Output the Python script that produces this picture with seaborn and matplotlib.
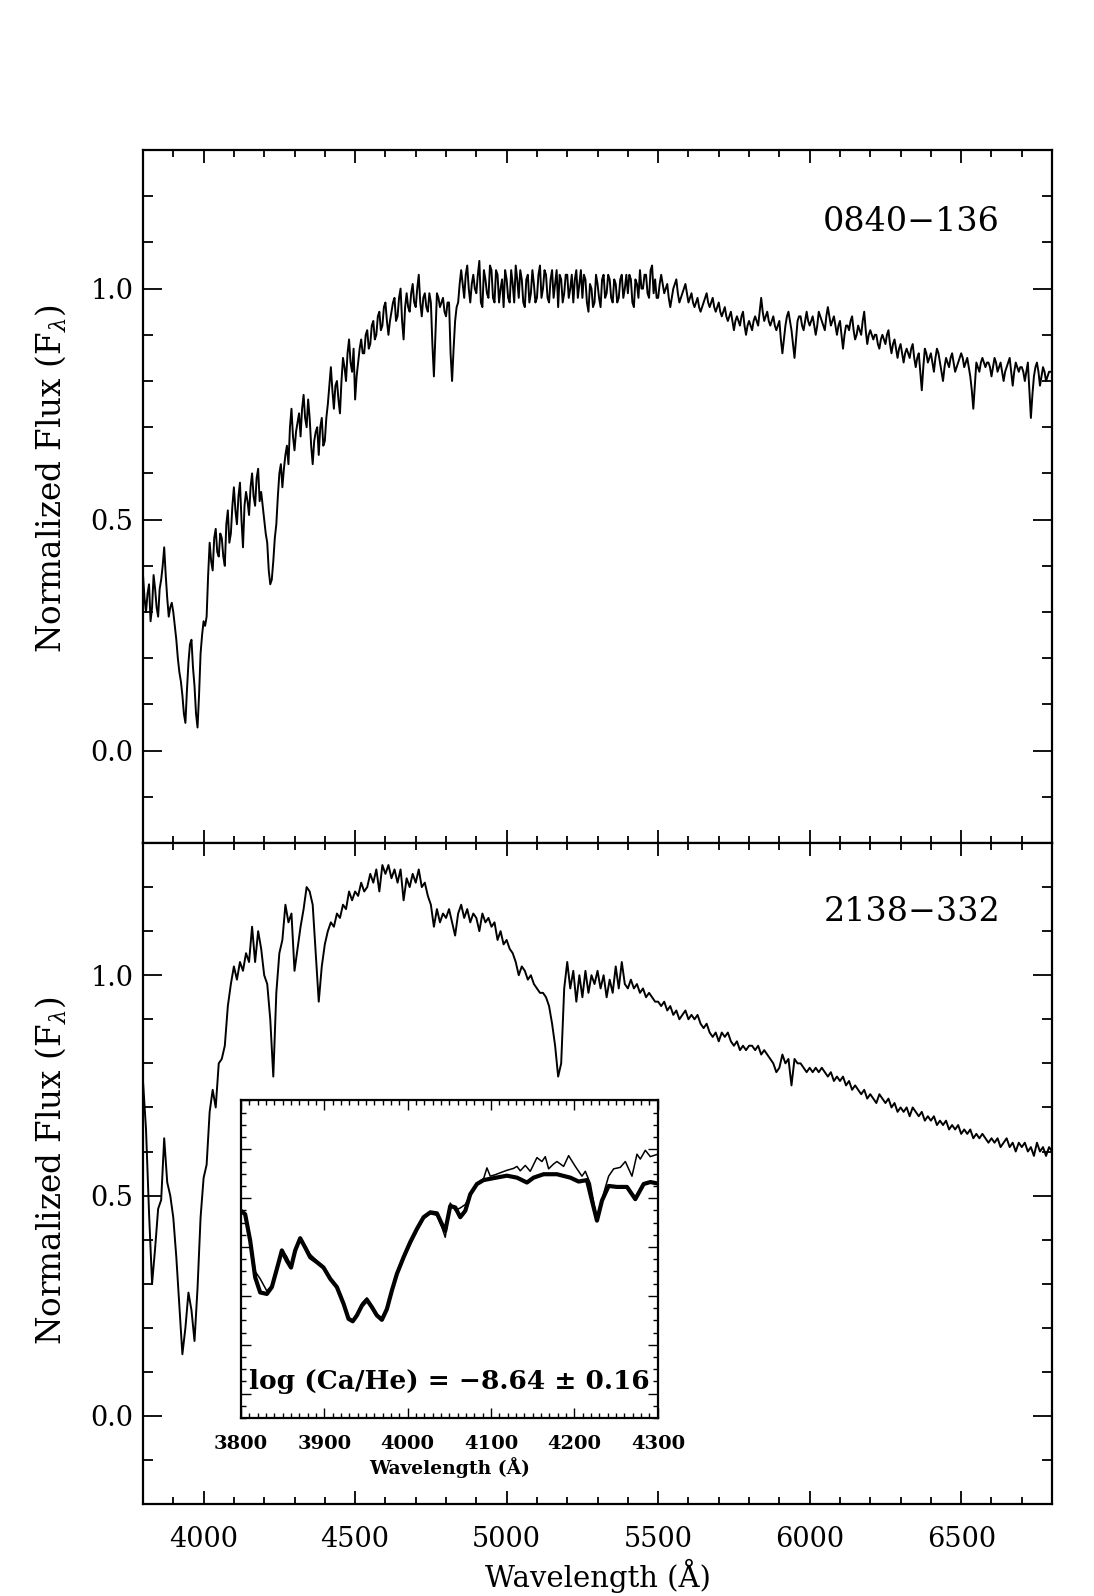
import numpy as np
import matplotlib
matplotlib.use('Agg')
import matplotlib.pyplot as plt
from matplotlib.ticker import MultipleLocator, FormatStrFormatter
import seaborn as sns

# wavelength grids of the two spectra (Angstrom)
wave = np.arange(3800, 6801, 10)
wave_mid = np.arange(3805, 6800, 10)

# 0840-136, every 10 A
flux_0840 = [
    0.38, 0.30, 0.36, 0.31, 0.35, 0.29, 0.37, 0.44, 0.33, 0.31,
    0.30, 0.24, 0.17, 0.12, 0.06, 0.19, 0.24, 0.14, 0.05, 0.21,
    0.28, 0.29, 0.45, 0.39, 0.48, 0.42, 0.46, 0.40, 0.52, 0.47,
    0.57, 0.49, 0.58, 0.44, 0.56, 0.51, 0.60, 0.53, 0.61, 0.56,
    0.50, 0.45, 0.36, 0.41, 0.49, 0.60, 0.57, 0.64, 0.62, 0.74,
    0.65, 0.71, 0.68, 0.77, 0.70, 0.72, 0.62, 0.69, 0.64, 0.72,
    0.67, 0.75, 0.83, 0.74, 0.80, 0.73, 0.85, 0.80, 0.89, 0.82,
    0.76, 0.84, 0.89, 0.86, 0.91, 0.88, 0.93, 0.90, 0.95, 0.92,
    0.97, 0.90, 0.95, 0.98, 0.94, 1.00, 0.89, 0.99, 0.95, 1.01,
    0.96, 1.03, 0.94, 0.99, 0.95, 0.97, 0.81, 0.99, 0.96, 0.98,
    0.94, 0.97, 0.80, 0.93, 0.97, 1.04, 0.98, 1.05, 0.97, 1.03,
    0.99, 1.06, 0.96, 1.02, 0.98, 1.04, 0.97, 1.03, 1.00, 0.96,
    1.02, 0.97, 1.01, 1.05, 0.98, 1.02, 0.96, 1.03, 0.99, 1.01,
    0.98, 1.05, 1.00, 1.03, 0.97, 1.04, 1.01, 0.96, 1.02, 0.99,
    1.03, 1.00, 0.97, 1.04, 1.01, 0.98, 1.02, 0.95, 1.00, 0.97,
    1.01, 0.96, 1.03, 0.99, 1.02, 0.97, 1.01, 0.98, 1.03, 1.00,
    0.99, 1.02, 0.96, 1.01, 1.04, 1.00, 1.03, 0.98, 1.05, 1.02,
    0.98, 1.03, 0.99, 1.01, 0.96, 1.00, 1.02, 0.97, 0.99, 1.01,
    0.97, 0.99, 0.96, 0.98, 0.95, 0.97, 0.99, 0.96, 0.98, 0.95,
    0.97, 0.94, 0.96, 0.93, 0.95, 0.91, 0.94, 0.92, 0.95, 0.90,
    0.93, 0.91, 0.94, 0.92, 0.98, 0.93, 0.95, 0.92, 0.94, 0.91,
    0.93, 0.86, 0.92, 0.95, 0.91, 0.85, 0.93, 0.94, 0.91, 0.95,
    0.92, 0.94, 0.90, 0.95, 0.93, 0.91, 0.96, 0.92, 0.94, 0.90,
    0.93, 0.87, 0.92, 0.91, 0.94, 0.89, 0.92, 0.90, 0.95, 0.88,
    0.91, 0.89, 0.90, 0.87, 0.90, 0.88, 0.91, 0.86, 0.89, 0.85,
    0.88, 0.84, 0.87, 0.85, 0.88, 0.83, 0.86, 0.78, 0.87, 0.84,
    0.86, 0.82, 0.87, 0.84, 0.80, 0.85, 0.83, 0.86, 0.82, 0.84,
    0.86, 0.83, 0.85, 0.81, 0.74, 0.84, 0.82, 0.85, 0.83, 0.84,
    0.81, 0.85, 0.82, 0.84, 0.80, 0.83, 0.85, 0.79, 0.84, 0.82,
    0.83, 0.80, 0.84, 0.72, 0.81, 0.84, 0.79, 0.83, 0.80, 0.82, 0.82,
]

# 0840-136, extra samples half way between the ones above (3805, 3815, ...)
flux_0840_mid = [
    0.33, 0.34, 0.28, 0.38, 0.31, 0.35, 0.40, 0.38, 0.29, 0.32,
    0.27, 0.20, 0.15, 0.08, 0.13, 0.23, 0.18, 0.08, 0.12, 0.25,
    0.27, 0.38, 0.41, 0.46, 0.43, 0.47, 0.42, 0.49, 0.45, 0.53,
    0.52, 0.55, 0.50, 0.53, 0.54, 0.57, 0.55, 0.59, 0.54, 0.53,
    0.47, 0.39, 0.37, 0.46, 0.55, 0.62, 0.61, 0.66, 0.70, 0.68,
    0.69, 0.73, 0.74, 0.72, 0.76, 0.66, 0.67, 0.70, 0.70, 0.66,
    0.72, 0.79, 0.78, 0.79, 0.76, 0.80, 0.83, 0.86, 0.84, 0.87,
    0.81, 0.87, 0.86, 0.90, 0.87, 0.92, 0.89, 0.94, 0.91, 0.96,
    0.93, 0.93, 0.97, 0.93, 0.98, 0.93, 0.96, 0.96, 0.99, 0.97,
    1.00, 0.97, 0.98, 0.96, 0.99, 0.88, 0.90, 0.98, 0.97, 0.95,
    0.97, 0.86, 0.87, 0.96, 1.01, 1.01, 1.03, 1.00, 1.01, 1.00,
    1.03, 0.97, 1.04, 0.99, 1.05, 0.98, 1.04, 0.97, 1.02, 1.04,
    0.98, 1.04, 0.97, 1.02, 1.04, 0.97, 1.02, 0.97, 1.04, 0.97,
    1.03, 0.98, 1.04, 0.98, 1.02, 0.98, 1.04, 1.03, 0.97, 1.03,
    0.98, 1.03, 1.02, 0.98, 1.04, 1.03, 0.97, 1.01, 0.96, 1.03,
    0.98, 1.02, 0.98, 1.03, 0.98, 1.02, 0.97, 1.02, 0.98, 1.03,
    1.03, 0.97, 1.02, 0.98, 1.00, 1.03, 0.99, 1.04, 0.99, 0.98,
    1.01, 1.01, 1.00, 0.98, 0.98, 1.01, 0.99, 0.98, 1.00, 0.99,
    0.98, 0.97, 0.97, 0.96, 0.96, 0.98, 0.97, 0.97, 0.96, 0.96,
    0.95, 0.95, 0.94, 0.94, 0.93, 0.93, 0.93, 0.94, 0.92, 0.92,
    0.92, 0.93, 0.93, 0.95, 0.95, 0.94, 0.93, 0.93, 0.92, 0.92,
    0.89, 0.89, 0.94, 0.93, 0.88, 0.89, 0.94, 0.92, 0.93, 0.93,
    0.93, 0.92, 0.92, 0.94, 0.92, 0.94, 0.94, 0.93, 0.92, 0.92,
    0.90, 0.90, 0.92, 0.93, 0.91, 0.90, 0.91, 0.93, 0.91, 0.90,
    0.90, 0.90, 0.88, 0.89, 0.89, 0.90, 0.88, 0.88, 0.87, 0.87,
    0.86, 0.86, 0.86, 0.87, 0.85, 0.85, 0.82, 0.83, 0.86, 0.85,
    0.84, 0.85, 0.86, 0.82, 0.83, 0.84, 0.85, 0.84, 0.83, 0.85,
    0.85, 0.84, 0.83, 0.78, 0.79, 0.83, 0.84, 0.84, 0.84, 0.83,
    0.83, 0.84, 0.83, 0.82, 0.82, 0.84, 0.82, 0.82, 0.83, 0.83,
    0.82, 0.82, 0.78, 0.77, 0.83, 0.82, 0.81, 0.82, 0.81, 0.82,
]

# 2138-332, bottom panel
flux_2138 = [
    0.76, 0.65, 0.46, 0.30, 0.38, 0.47, 0.49, 0.63, 0.53, 0.50,
    0.45, 0.36, 0.25, 0.14, 0.20, 0.28, 0.24, 0.17, 0.29, 0.45,
    0.54, 0.57, 0.69, 0.74, 0.70, 0.80, 0.81, 0.84, 0.93, 0.98,
    1.02, 0.99, 1.03, 1.01, 1.05, 1.03, 1.11, 1.03, 1.10, 1.06,
    1.00, 0.98, 0.90, 0.77, 0.96, 1.05, 1.08, 1.16, 1.12, 1.14,
    1.01, 1.06, 1.11, 1.15, 1.20, 1.19, 1.16, 1.05, 0.94, 1.02,
    1.07, 1.10, 1.12, 1.11, 1.14, 1.13, 1.16, 1.15, 1.19, 1.17,
    1.19, 1.18, 1.21, 1.19, 1.20, 1.23, 1.21, 1.24, 1.19, 1.25,
    1.23, 1.25, 1.22, 1.24, 1.21, 1.24, 1.17, 1.22, 1.20, 1.23,
    1.21, 1.24, 1.20, 1.21, 1.18, 1.16, 1.11, 1.15, 1.12, 1.14,
    1.13, 1.15, 1.12, 1.09, 1.14, 1.16, 1.13, 1.15, 1.12, 1.14,
    1.13, 1.10, 1.14, 1.12, 1.13, 1.11, 1.12, 1.08, 1.10, 1.07,
    1.08, 1.06, 1.05, 1.03, 1.00, 1.02, 1.01, 0.99, 1.00, 0.98,
    0.97, 0.96, 0.96, 0.95, 0.93, 0.89, 0.84, 0.77, 0.80, 0.97,
    1.03, 0.97, 1.01, 0.94, 1.00, 0.95, 1.01, 0.96, 1.00, 0.98,
    1.01, 0.97, 1.00, 0.95, 0.99, 0.96, 1.02, 0.97, 1.03, 0.98,
    0.97, 0.99, 0.97, 0.98, 0.96, 0.97, 0.95, 0.96, 0.95, 0.94,
    0.94, 0.93, 0.94, 0.92, 0.93, 0.91, 0.92, 0.90, 0.91, 0.92,
    0.90, 0.91, 0.90, 0.91, 0.89, 0.88, 0.89, 0.87, 0.86, 0.87,
    0.85, 0.87, 0.86, 0.87, 0.85, 0.84, 0.85, 0.83, 0.84, 0.83,
    0.84, 0.84, 0.83, 0.84, 0.82, 0.83, 0.82, 0.81, 0.80, 0.78,
    0.79, 0.82, 0.80, 0.81, 0.75, 0.81, 0.80, 0.80, 0.79, 0.78,
    0.79, 0.78, 0.79, 0.78, 0.79, 0.78, 0.77, 0.78, 0.76, 0.77,
    0.76, 0.77, 0.75, 0.76, 0.74, 0.75, 0.74, 0.73, 0.74, 0.72,
    0.73, 0.72, 0.71, 0.73, 0.72, 0.71, 0.72, 0.70, 0.71, 0.69,
    0.70, 0.69, 0.70, 0.68, 0.70, 0.69, 0.68, 0.69, 0.67, 0.68,
    0.67, 0.68, 0.66, 0.67, 0.66, 0.67, 0.65, 0.66, 0.65, 0.66,
    0.64, 0.65, 0.64, 0.65, 0.63, 0.64, 0.63, 0.64, 0.63, 0.62,
    0.63, 0.62, 0.63, 0.61, 0.62, 0.63, 0.61, 0.62, 0.60, 0.62,
    0.61, 0.62, 0.60, 0.61, 0.59, 0.62, 0.60, 0.61, 0.59, 0.61, 0.60,
]

# inset: Ca H&K region, model (thick) and observed (thin)
model_wave = [3800, 3805, 3811, 3817, 3823, 3831, 3837, 3843, 3849, 3855,
              3860, 3865, 3871, 3877, 3883, 3891, 3899, 3907, 3915, 3923,
              3929, 3934, 3939, 3945, 3951, 3957, 3963, 3969, 3975, 3981,
              3987, 3995, 4003, 4011, 4019, 4027, 4035, 4041, 4045, 4051,
              4057, 4063, 4069, 4075, 4083, 4091, 4103, 4119, 4131, 4143,
              4151, 4163, 4179, 4195, 4205, 4215, 4221, 4227, 4233, 4241,
              4251, 4263, 4273, 4283, 4291, 4300]
model_flux = [0.474, 0.467, 0.413, 0.338, 0.307, 0.304, 0.318, 0.355, 0.393, 0.372,
              0.358, 0.393, 0.418, 0.399, 0.379, 0.369, 0.358, 0.335, 0.318, 0.284,
              0.253, 0.248, 0.260, 0.280, 0.292, 0.277, 0.260, 0.251, 0.273, 0.311,
              0.345, 0.379, 0.410, 0.437, 0.461, 0.471, 0.469, 0.447, 0.433, 0.484,
              0.481, 0.461, 0.474, 0.508, 0.529, 0.537, 0.541, 0.546, 0.542, 0.532,
              0.542, 0.549, 0.549, 0.542, 0.534, 0.537, 0.495, 0.454, 0.495, 0.525,
              0.523, 0.523, 0.498, 0.529, 0.533, 0.530]

obs_wave = [3800, 3805, 3811, 3817, 3823, 3831, 3837, 3843, 3849, 3855,
            3860, 3865, 3871, 3877, 3883, 3891, 3899, 3907, 3915, 3923,
            3929, 3934, 3939, 3945, 3951, 3957, 3963, 3969, 3975, 3981,
            3987, 3995, 4003, 4011, 4019, 4027, 4035, 4041, 4045, 4051,
            4057, 4063, 4069, 4075, 4083, 4091, 4095, 4099, 4105, 4111,
            4119, 4127, 4131, 4135, 4141, 4147, 4155, 4161, 4165, 4169,
            4175, 4179, 4187, 4193, 4201, 4209, 4213, 4219, 4227, 4235,
            4241, 4247, 4255, 4261, 4269, 4275, 4279, 4285, 4291, 4300]
obs_flux = [0.474, 0.467, 0.420, 0.350, 0.335, 0.310, 0.322, 0.360, 0.395, 0.380,
            0.362, 0.396, 0.418, 0.402, 0.385, 0.372, 0.360, 0.335, 0.320, 0.286,
            0.256, 0.250, 0.262, 0.285, 0.296, 0.280, 0.262, 0.255, 0.276, 0.313,
            0.343, 0.376, 0.405, 0.433, 0.458, 0.468, 0.465, 0.440, 0.420, 0.490,
            0.475, 0.480, 0.487, 0.505, 0.530, 0.540, 0.562, 0.545, 0.548, 0.552,
            0.557, 0.561, 0.565, 0.556, 0.567, 0.555, 0.583, 0.575, 0.585, 0.560,
            0.570, 0.575, 0.565, 0.587, 0.565, 0.545, 0.555, 0.530, 0.455, 0.510,
            0.545, 0.560, 0.563, 0.575, 0.545, 0.590, 0.580, 0.598, 0.585, 0.590]

labels = ['0840\u2212136', '2138\u2212332']
abund_text = 'log (Ca/He) = \u22128.64 \u00b1 0.16'

sns.set_theme(style='ticks')
plt.rcParams['font.family'] = ['DejaVu Serif']
plt.rcParams['mathtext.fontset'] = 'dejavuserif'
plt.rcParams['axes.linewidth'] = 1.6
plt.rcParams['text.color'] = 'black'
plt.rcParams['axes.labelcolor'] = 'black'
plt.rcParams['xtick.color'] = 'black'
plt.rcParams['ytick.color'] = 'black'
plt.rcParams['axes.edgecolor'] = 'black'

# top spectrum uses both sample sets
wave_top = np.concatenate([wave, wave_mid])
flux_top = np.concatenate([flux_0840, flux_0840_mid])

fig = plt.figure(figsize=(10.94, 15.96), dpi=100)
ax1 = fig.add_axes([0.1307, 0.4718, 0.831, 0.4342])
ax2 = fig.add_axes([0.1307, 0.0576, 0.831, 0.4142])

panels = [(ax1, wave_top, flux_top, 0.526), (ax2, wave, flux_2138, 0.505)]
for (ax, x, flux, ylab_pos), name in zip(panels, labels):
    sns.lineplot(x=x, y=flux, ax=ax, color='black', lw=1.4, estimator=None)
    ax.set_xlim(3800, 6800)
    ax.set_ylim(-0.2, 1.3)
    ax.xaxis.set_major_locator(MultipleLocator(500))
    ax.xaxis.set_minor_locator(MultipleLocator(100))
    ax.yaxis.set_major_locator(MultipleLocator(0.5))
    ax.yaxis.set_minor_locator(MultipleLocator(0.1))
    ax.yaxis.set_major_formatter(FormatStrFormatter('%.1f'))
    ax.tick_params(axis='both', which='both', direction='in', top=True, right=True,
                   width=1.3, labelsize=19.5)
    ax.tick_params(axis='x', which='major', length=9.5, pad=16)
    ax.tick_params(axis='x', which='minor', length=5)
    ax.tick_params(axis='y', which='major', length=13.5, pad=7)
    ax.tick_params(axis='y', which='minor', length=7)
    ax.set_ylabel(r'Normalized Flux (F$_{\lambda}$)', fontsize=23.5)
    ax.yaxis.set_label_coords(-0.082, ylab_pos)
    ax.text(6628, 1.144, name, ha='right', va='center', fontsize=24)

ax1.tick_params(axis='x', labelbottom=False)
ax2.set_xlabel('Wavelength (\u00c5)', fontsize=21, labelpad=4)

# inset
axi = fig.add_axes([0.2203, 0.1115, 0.381, 0.199])
sns.lineplot(x=obs_wave, y=obs_flux, ax=axi, color='black', lw=1.1, estimator=None)
sns.lineplot(x=model_wave, y=model_flux, ax=axi, color='black', lw=3.0, estimator=None)
axi.set_xlim(3800, 4300)
axi.set_ylim(0.05, 0.70)
axi.xaxis.set_major_locator(MultipleLocator(100))
axi.xaxis.set_minor_locator(MultipleLocator(10))
axi.yaxis.set_major_locator(MultipleLocator(0.1))
axi.yaxis.set_minor_locator(MultipleLocator(0.025))
axi.tick_params(axis='both', which='both', direction='in', top=True, right=True,
                width=1.0, labelleft=False, labelsize=14, pad=12)
axi.tick_params(axis='both', which='major', length=7)
axi.tick_params(axis='both', which='minor', length=3.5)
for lbl in axi.get_xticklabels():
    lbl.set_fontweight('bold')
axi.set_xlabel('Wavelength (\u00c5)', fontsize=13.5, fontweight='bold', labelpad=3)
axi.set_ylabel('')
axi.text(4050, 0.125, abund_text, ha='center', va='center', fontsize=19, fontweight='bold')

fig.savefig('out.png', dpi=100)
